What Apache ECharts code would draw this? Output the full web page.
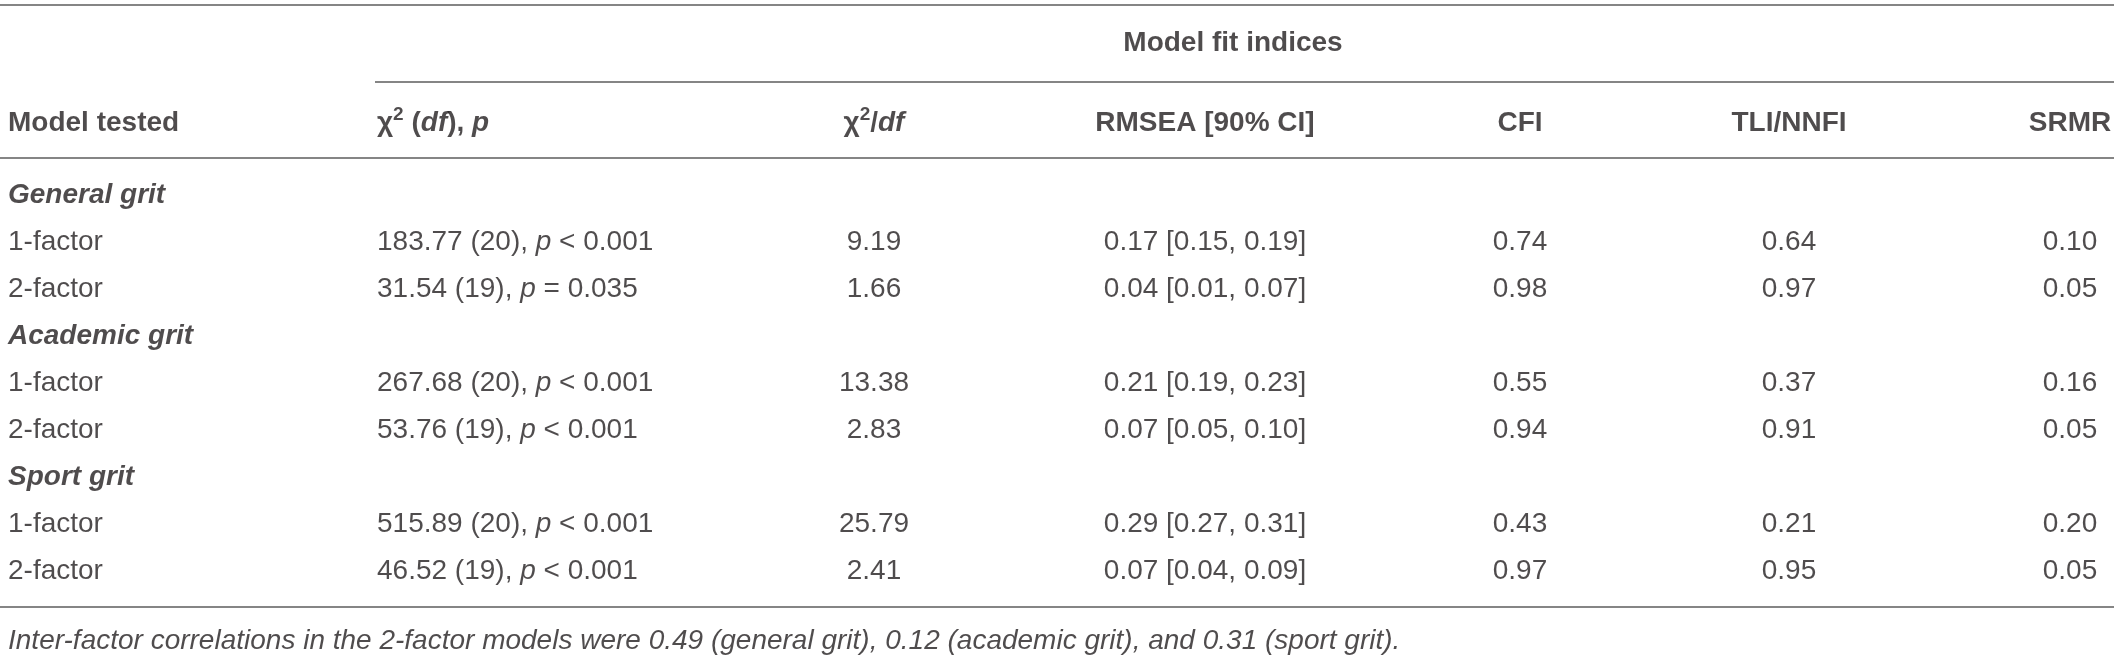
<!DOCTYPE html>
<html>
<head>
<meta charset="utf-8">
<script src="https://cdn.jsdelivr.net/npm/echarts@6/dist/echarts.min.js"></script>
<style>
html,body{margin:0;padding:0;background:#fff;}
#chart{width:2120px;height:657px;}
</style>
</head>
<body>
<div id="chart"></div>
<script>
// ---------- data ----------
var groups = ['General grit', 'Academic grit', 'Sport grit'];
var models = ['1-factor', '2-factor'];
var chi2 = [183.77, 31.54, 267.68, 53.76, 515.89, 46.52];
var df = [20, 19, 20, 19, 20, 19];
var pText = ['< 0.001', '= 0.035', '< 0.001', '< 0.001', '< 0.001', '< 0.001'];
var chi2df = [9.19, 1.66, 13.38, 2.83, 25.79, 2.41];
var rmsea = [0.17, 0.04, 0.21, 0.07, 0.29, 0.07];
var rmseaLo = [0.15, 0.01, 0.19, 0.05, 0.27, 0.04];
var rmseaHi = [0.19, 0.07, 0.23, 0.10, 0.31, 0.09];
var cfi = [0.74, 0.98, 0.55, 0.94, 0.43, 0.97];
var tli = [0.64, 0.97, 0.37, 0.91, 0.21, 0.95];
var srmr = [0.10, 0.05, 0.16, 0.05, 0.20, 0.05];
var spanHeader = 'Model fit indices';
var colHeaders = ['{b|Model tested}', '{b|χ}{sup|2}{b| (}{bi|df}{b|), }{bi|p}', '{b|χ}{sup|2}{b|/}{bi|df}',
                  '{b|RMSEA [90% CI]}', '{b|CFI}', '{b|TLI/NNFI}', '{b|SRMR}'];
var footnote = 'Inter-factor correlations in the 2-factor models were 0.49 (general grit), 0.12 (academic grit), and 0.31 (sport grit).';

// ---------- layout ----------
var W = 2120, H = 657;
var colX = [8, 377, 874, 1205, 1520, 1789, 2070];
var colAlign = ['left', 'left', 'center', 'center', 'center', 'center', 'center'];
var spanX = 1233, spanY = 43, headY = 123, bodyTop = 195, rowStep = 47, footY = 641;
var lineTop = 5, lineSpan = 82, lineHead = 158, lineBottom = 607;
var spanX0 = 375, tableX1 = 2114;
var textColor = '#231f20', ruleColor = '#858585';
var FONT = '"Liberation Sans", Arial, Helvetica, sans-serif';

function f2(v) { return v.toFixed(2); }

// build cells
var cells = [];
cells.push({ value: [spanX, spanY], text: '{b|' + spanHeader + '}', align: 'center' });
colHeaders.forEach(function (h, c) {
  cells.push({ value: [colX[c], headY], text: h, align: colAlign[c] });
});
var r = 0;
groups.forEach(function (g, gi) {
  cells.push({ value: [colX[0], bodyTop + r * rowStep], text: '{bi|' + g + '}', align: 'left' });
  r++;
  models.forEach(function (m, mi) {
    var k = gi * 2 + mi;
    var y = bodyTop + r * rowStep;
    var row = [
      m,
      f2(chi2[k]) + ' (' + df[k] + '), {i|p} ' + pText[k],
      f2(chi2df[k]),
      f2(rmsea[k]) + ' [' + f2(rmseaLo[k]) + ', ' + f2(rmseaHi[k]) + ']',
      f2(cfi[k]), f2(tli[k]), f2(srmr[k])
    ];
    row.forEach(function (t, c) {
      cells.push({ value: [colX[c], y], text: t, align: colAlign[c] });
    });
    r++;
  });
});
cells.push({ value: [colX[0], footY], text: '{i|' + footnote + '}', align: 'left' });

var data = cells.map(function (c) {
  return {
    value: c.value,
    label: { align: c.align, formatter: c.text }
  };
});

var rules = [
  [[0, lineTop], [tableX1, lineTop]],
  [[spanX0, lineSpan], [tableX1, lineSpan]],
  [[0, lineHead], [tableX1, lineHead]],
  [[0, lineBottom], [tableX1, lineBottom]]
];

var chart = echarts.init(document.getElementById('chart'), null, { renderer: 'canvas' });
chart.setOption({
  animation: false,
  backgroundColor: '#fff',
  grid: { left: 0, right: 0, top: 0, bottom: 0 },
  xAxis: { type: 'value', min: 0, max: W, show: false },
  yAxis: { type: 'value', min: 0, max: H, inverse: true, show: false },
  series: [{
    type: 'scatter',
    symbolSize: 0,
    silent: true,
    data: data,
    label: {
      show: true,
      position: 'inside',
      verticalAlign: 'middle',
      fontFamily: FONT,
      fontSize: 28,
      color: textColor,
      lineHeight: 36,
      rich: {
        i: { fontStyle: 'italic', fontSize: 28, fontFamily: FONT, color: textColor, lineHeight: 36 },
        b: { fontWeight: 'bold', fontSize: 28, fontFamily: FONT, color: textColor, lineHeight: 36 },
        bi: { fontWeight: 'bold', fontStyle: 'italic', fontSize: 28, fontFamily: FONT, color: textColor, lineHeight: 36 },
        sup: { fontWeight: 'bold', fontSize: 19, fontFamily: FONT, color: textColor, lineHeight: 20, verticalAlign: 'top' }
      }
    },
    markLine: {
      silent: true,
      symbol: 'none',
      label: { show: false },
      lineStyle: { color: ruleColor, width: 2, type: 'solid' },
      data: rules.map(function (seg) {
        return [{ coord: seg[0] }, { coord: seg[1] }];
      })
    }
  }]
});
</script>
</body>
</html>
